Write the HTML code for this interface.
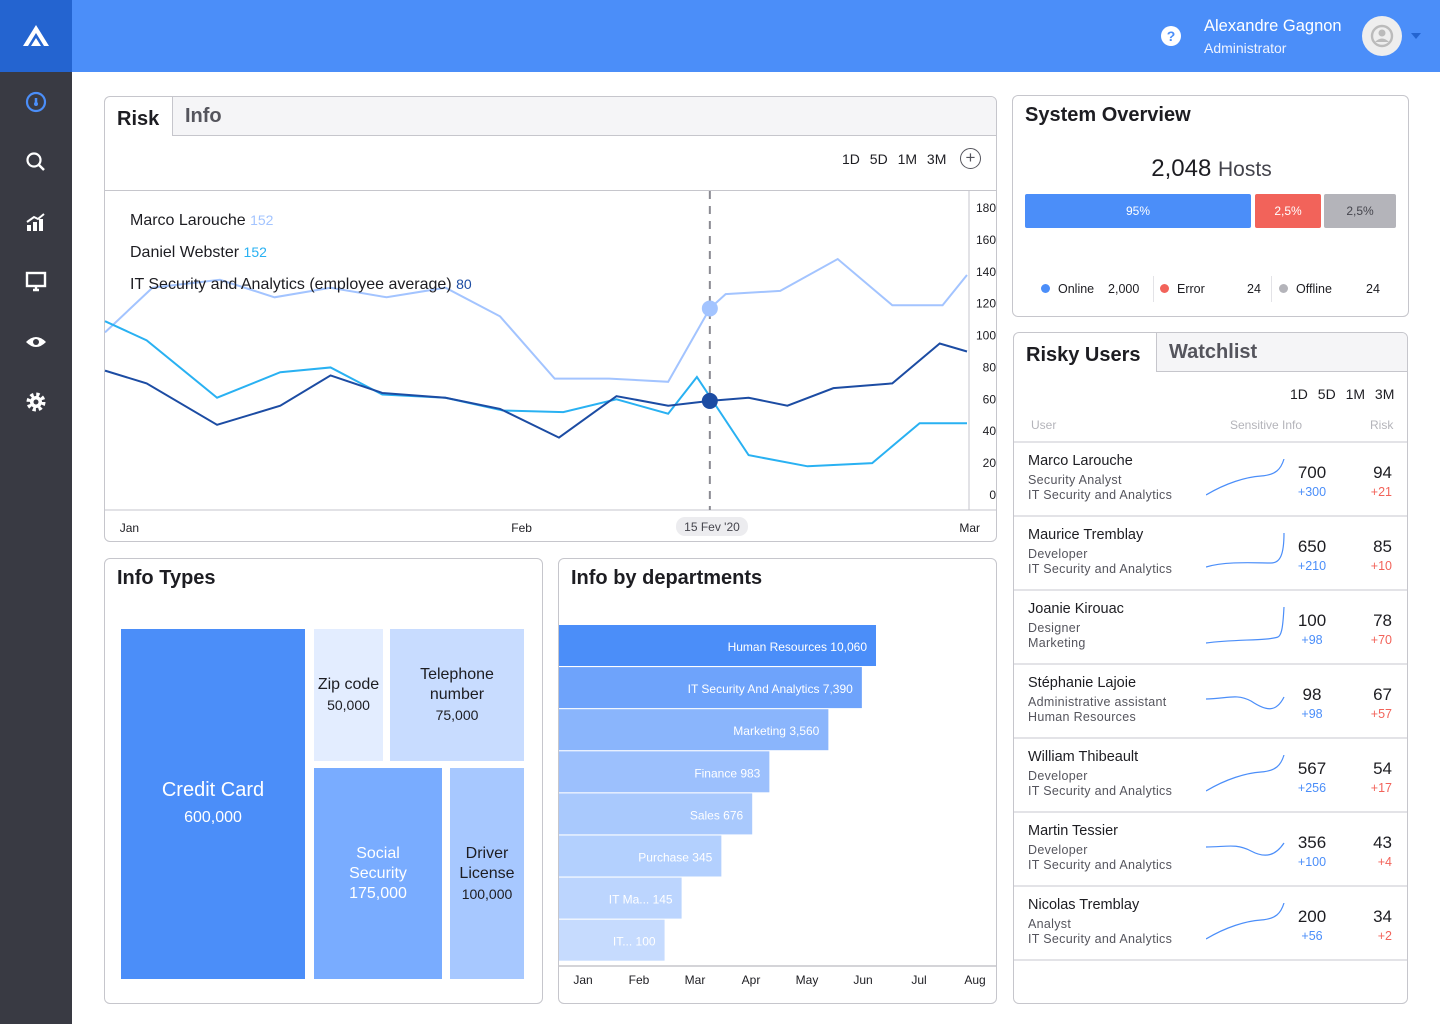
<!DOCTYPE html>
<html><head><meta charset="utf-8">
<style>
*{box-sizing:border-box;margin:0;padding:0}
body{width:1440px;height:1024px;overflow:hidden;background:#fff;font-family:"Liberation Sans",sans-serif;color:#1d1d22;position:relative}
.abs{position:absolute}
.card{position:absolute;border:1px solid #c6c6cc;border-radius:6px;background:#fff;overflow:hidden}
.title{position:absolute;font-weight:bold;font-size:20px;color:#1d1d22}
.tabgrey{position:absolute;background:#f5f5f7;border-left:1px solid #c6c6cc;border-bottom:1px solid #c6c6cc;font-weight:bold;font-size:20px;color:#55555d;padding:8px 12px}
.rng{position:absolute;font-size:14px;color:#1d1d22;word-spacing:6px}
.row{position:absolute;left:0;width:395px;height:74px;border-bottom:2px solid #e3e3e7}
.nm{position:absolute;left:14px;top:10px;font-size:14.5px;color:#1d1d22}
.sb{position:absolute;left:14px;font-size:12.5px;color:#55555d;letter-spacing:.3px}
.v1{position:absolute;width:60px;text-align:center;left:268px;top:20px;font-size:17px}
.d1{position:absolute;width:60px;text-align:center;left:268px;top:42px;font-size:12.5px;color:#4b8ef9}
.v2{position:absolute;width:40px;text-align:right;left:338px;top:20px;font-size:17px}
.d2{position:absolute;width:40px;text-align:right;left:338px;top:42px;font-size:12.5px;color:#f2635a}
.tm{position:absolute;display:flex;flex-direction:column;align-items:center;justify-content:center;text-align:center;font-size:16px;line-height:20px}
.ico{position:absolute;left:24px;width:24px;height:24px}
</style></head><body>
<div class="abs" style="left:0;top:0;width:1440px;height:72px;background:#4b8ef9"></div>
<div class="abs" style="left:0;top:0;width:72px;height:72px;background:#2464d0">
<svg width="72" height="72"><path d="M23 46 L36 25 L49 46 L44 46 L36 33 L28 46Z" fill="#fff"/><path d="M31 46 L36 38 L41 46Z" fill="#fff"/></svg></div>
<div class="abs" style="left:0;top:72px;width:72px;height:952px;background:#393a43">
<svg class="ico" style="top:18px" viewBox="0 0 24 24"><circle cx="12" cy="12" r="9" fill="none" stroke="#4b8ef9" stroke-width="2.2"/><path d="M12 14 L12 8" stroke="#4b8ef9" stroke-width="2.5"/><circle cx="12" cy="14" r="2" fill="#4b8ef9"/></svg>
<svg class="ico" style="top:78px" viewBox="0 0 24 24"><circle cx="10" cy="10" r="6.5" fill="none" stroke="#fff" stroke-width="2.2"/><path d="M15 15 L20 20" stroke="#fff" stroke-width="2.5"/></svg>
<svg class="ico" style="top:138px" viewBox="0 0 24 24"><path d="M3 21 V15 H7 V21Z M9 21 V12 H13 V21Z M15 21 V9 H19 V21Z" fill="#fff"/><path d="M3 12 L10 7 L14 9 L20 4" stroke="#fff" stroke-width="2" fill="none"/></svg>
<svg class="ico" style="top:198px" viewBox="0 0 24 24"><rect x="3" y="3" width="18" height="13" fill="none" stroke="#fff" stroke-width="2.4"/><path d="M9 20 H15 M12 16 V20" stroke="#fff" stroke-width="2.4"/></svg>
<svg class="ico" style="top:258px" viewBox="0 0 24 24"><path d="M2 12 Q12 2 22 12 Q12 22 2 12Z" fill="#fff"/><circle cx="12" cy="12" r="3" fill="#393a43"/></svg>
<svg class="ico" style="top:318px" viewBox="0 0 24 24"><circle cx="12" cy="12" r="7" fill="none" stroke="#fff" stroke-width="5" stroke-dasharray="3 2.5"/><circle cx="12" cy="12" r="6" fill="#fff"/><circle cx="12" cy="12" r="2.5" fill="#393a43"/></svg>
</div>
<div class="abs" style="left:1161px;top:26px;width:20px;height:20px;border-radius:50%;background:#fff;color:#4b8ef9;font-weight:bold;font-size:14px;text-align:center;line-height:20px">?</div>
<div class="abs" style="left:1204px;top:17px;color:#fff;font-size:16.5px">Alexandre Gagnon</div>
<div class="abs" style="left:1204px;top:40px;color:#eef3ff;font-size:14px">Administrator</div>
<div class="abs" style="left:1362px;top:16px;width:40px;height:40px;border-radius:50%;background:#eee"><svg width="40" height="40"><circle cx="20" cy="20" r="10" fill="none" stroke="#bbb" stroke-width="2.4"/><circle cx="20" cy="17" r="3.5" fill="#bbb"/><path d="M13 26 Q20 19 27 26" fill="#bbb"/></svg></div>
<div class="abs" style="left:1411px;top:33px;border-left:5px solid transparent;border-right:5px solid transparent;border-top:6px solid #2464d0"></div>

<!-- Risk card -->
<div class="card" style="left:104px;top:96px;width:893px;height:446px">
<div class="title" style="left:12px;top:11px">Risk</div>
<div class="tabgrey" style="left:67px;top:-1px;width:830px;height:40px;padding-top:9px">Info</div>
<div class="rng" style="left:737px;top:54px">1D 5D 1M 3M</div>
<div class="abs" style="left:855px;top:51px;width:21px;height:21px;border:1.5px solid #55555d;border-radius:50%;text-align:center;line-height:17px;font-size:17px;color:#55555d">+</div>
<div class="abs" style="left:0;top:93px;width:893px;border-top:1px solid #c6c6cc"></div>
</div>
<svg class="abs" id="lc" style="left:0;top:0" width="1000" height="545"></svg>

<!-- Info Types -->
<div class="card" style="left:104px;top:558px;width:439px;height:446px">
<div class="title" style="left:12px;top:8px">Info Types</div>
</div>
<div class="tm" style="left:121px;top:629px;width:184px;height:350px;background:#4b8ef9;color:#fff;font-size:20px;line-height:28px">Credit Card<span style="font-size:16px">600,000</span></div>
<div class="tm" style="left:314px;top:629px;width:69px;height:132px;background:#e3edff;color:#1d1d22">Zip code<span style="font-size:14px">50,000</span></div>
<div class="tm" style="left:390px;top:629px;width:134px;height:132px;background:#c8dcff;color:#1d1d22">Telephone<br>number<span style="font-size:14px">75,000</span></div>
<div class="tm" style="left:314px;top:768px;width:128px;height:211px;background:#79acff;color:#fff">Social<br>Security<span>175,000</span></div>
<div class="tm" style="left:450px;top:768px;width:74px;height:211px;background:#a7c8ff;color:#1d1d22">Driver<br>License<span style="font-size:14px">100,000</span></div>

<!-- Departments -->
<div class="card" style="left:558px;top:558px;width:439px;height:446px">
<div class="title" style="left:12px;top:8px">Info by departments</div>
</div>
<svg class="abs" id="bc" style="left:0;top:0" width="1000" height="1000"></svg>

<!-- System overview -->
<div class="card" style="left:1012px;top:95px;width:397px;height:222px">
<div class="title" style="left:12px;top:8px">System Overview</div>
<div class="abs" style="left:0;width:397px;top:59px;text-align:center;font-size:24px">2,048 <span style="font-size:21px;color:#45454d">Hosts</span></div>
<div class="abs" style="left:12px;top:98px;width:226px;height:34px;background:#4b8ef9;color:#fff;font-size:12px;text-align:center;line-height:34px;border-radius:2px">95%</div>
<div class="abs" style="left:242px;top:98px;width:66px;height:34px;background:#f2635a;color:#fff;font-size:12px;text-align:center;line-height:34px;border-radius:2px">2,5%</div>
<div class="abs" style="left:311px;top:98px;width:72px;height:34px;background:#b4b4ba;color:#45454d;font-size:12px;text-align:center;line-height:34px;border-radius:2px">2,5%</div>
<div class="abs" style="left:28px;top:186px;font-size:12.5px;color:#1d1d22"><span style="display:inline-block;width:9px;height:9px;border-radius:50%;background:#4b8ef9;margin-right:8px"></span>Online&nbsp;&nbsp;&nbsp;&nbsp;2,000</div>
<div class="abs" style="left:140px;top:180px;height:26px;border-left:1px solid #e3e3e7"></div>
<div class="abs" style="left:147px;top:186px;font-size:12.5px"><span style="display:inline-block;width:9px;height:9px;border-radius:50%;background:#f2635a;margin-right:8px"></span>Error</div>
<div class="abs" style="left:234px;top:186px;font-size:12.5px">24</div>
<div class="abs" style="left:258px;top:180px;height:26px;border-left:1px solid #e3e3e7"></div>
<div class="abs" style="left:266px;top:186px;font-size:12.5px"><span style="display:inline-block;width:9px;height:9px;border-radius:50%;background:#b4b4ba;margin-right:8px"></span>Offline</div>
<div class="abs" style="left:353px;top:186px;font-size:12.5px">24</div>
</div>

<!-- Risky users -->
<div class="card" id="ru" style="left:1013px;top:332px;width:395px;height:672px">
<div class="title" style="left:12px;top:11px">Risky Users</div>
<div class="tabgrey" style="left:142px;top:-1px;width:260px;height:40px;padding-top:9px">Watchlist</div>
<div class="rng" style="left:276px;top:53px">1D 5D 1M 3M</div>
<div class="abs" style="left:17px;top:85px;font-size:12px;color:#b4b4ba">User</div>
<div class="abs" style="left:216px;top:85px;font-size:12px;color:#b4b4ba">Sensitive Info</div>
<div class="abs" style="left:356px;top:85px;font-size:12px;color:#b4b4ba">Risk</div>
<div class="abs" style="left:0;top:108px;width:395px;border-top:2px solid #e3e3e7"></div>
</div>

<script>
// ---------- line chart ----------
const days = [0,3.3,8,11.8,15.7,19.6,23.7,27.5,31.3,35.1,39.2,42.1,43.2,47,51,54.8,58.3,60];
const marcoVals = [102,130,135,124,130,124,130,112,73,73,71,117,126,128,148,119,119,138];
const danielDays = [0,2.9,7.8,12.2,15.7,19.3,23.7,27.7,31.9,35.6,39.2,41.2,44.8,48.9,53.4,56.7,60];
const danielVals = [109,97,61,77,80,63,61,53,52,60,51,74,25,18,20,45,45];
const avgDays = [0,2.9,7.8,12.2,15.7,19.3,23.7,27.5,31.6,35.6,39.2,42.1,44.8,47.5,50.7,54.8,58.1,60];
const avgVals = [78,70,44,56,75,64,61,54,36,62,56,59,61,56,67,70,95,90];
const yTicks = [0,20,40,60,80,100,120,140,160,180];
const xLabels = ["Jan","Feb","Mar"];
const xLabelDays = [1.7,29,60];
const markerDay = 42.1;
const markerMarco = 117, markerAvg = 59;
const legendNames = ["Marco Larouche","Daniel Webster","IT Security and Analytics (employee average)"];
const legendVals = [152,152,80];
const colors = ["#a3c4ff","#29b1f2","#1c4ca3"];

const NS="http://www.w3.org/2000/svg";
function mk(svg,tag,attrs,text){const e=document.createElementNS(NS,tag);for(const k in attrs)e.setAttribute(k,attrs[k]);if(text!==undefined)e.textContent=text;svg.appendChild(e);return e;}
const lc=document.getElementById('lc');
const xS=d=>105+d*(862/60);
const yS=v=>495-v*(287/180);
mk(lc,'line',{x1:969,y1:191,x2:969,y2:510,stroke:'#c6c6cc'});
mk(lc,'line',{x1:105,y1:510,x2:996,y2:510,stroke:'#c6c6cc'});
yTicks.forEach(t=>{const e=mk(lc,'text',{x:996,y:yS(t)+4,'text-anchor':'end','font-size':12,fill:'#1d1d22'},t);

});
mk(lc,'rect',{x:676,y:517,width:72,height:19,rx:9,fill:'#ececef'});
xLabels.forEach((l,i)=>{const e=mk(lc,'text',{x:xS(xLabelDays[i])+ (i==0?0:0),y:532,'text-anchor':i==2?'end':'middle','font-size':12,fill:'#1d1d22'},l);
if(i==2)e.setAttribute('x',980);

});
const ml=mk(lc,'text',{x:712,y:531,'text-anchor':'middle','font-size':12,fill:'#45454d'},"15 Fev '20");


mk(lc,'line',{x1:xS(markerDay),y1:191,x2:xS(markerDay),y2:510,stroke:'#8a8a92','stroke-width':2,'stroke-dasharray':'8 7'});
function line(ds,vs,c,name){const p=mk(lc,'polyline',{points:ds.map((d,i)=>xS(d)+','+yS(vs[i])).join(' '),fill:'none',stroke:c,'stroke-width':2});

}
const clip=mk(lc,'clipPath',{id:'cp'});mk(clip,'rect',{x:105,y:190,width:864,height:320});
line(days,marcoVals,colors[0],'marco-line');
line(danielDays,danielVals,colors[1],'daniel-line');
line(avgDays,avgVals,colors[2],'average-line');
const m1=mk(lc,'circle',{cx:xS(markerDay),cy:yS(markerMarco),r:8,fill:colors[0]});


const m2=mk(lc,'circle',{cx:xS(markerDay),cy:yS(markerAvg),r:8,fill:colors[2]});


legendNames.forEach((n,i)=>{const t=mk(lc,'text',{x:130,y:225+i*32,'font-size':16,fill:'#1d1d22'});


const a=document.createElementNS(NS,'tspan');a.textContent=n+'  ';t.appendChild(a);
const b=document.createElementNS(NS,'tspan');b.textContent=' '+legendVals[i];b.setAttribute('fill',colors[i]);b.setAttribute('font-size',14);t.appendChild(b);});

// ---------- bar chart ----------
const depts = ["Human Resources","IT Security And Analytics","Marketing","Finance","Sales","Purchase","IT Ma...","IT..."];
const deptVals = [10060,7390,3560,983,676,345,145,100];
const months = ["Jan","Feb","Mar","Apr","May","Jun","Jul","Aug"];
const barColors = ["#4b8ef9","#6ea3fb","#8ab5fc","#9cc0fd","#a9c9fd","#b3d0fe","#bcd5fe","#c6dbfe"];
const bc=document.getElementById('bc');
const bx=v=>Math.max(0,(Math.log10(v)-1)/(Math.log10(10060)-1))*317;
depts.forEach((d,i)=>{const y=625+i*42.1;
const r=mk(bc,'rect',{x:559,y:y,width:bx(deptVals[i]),height:41,fill:barColors[i]});


const t=mk(bc,'text',{x:559+bx(deptVals[i])-9,y:y+26,'text-anchor':'end','font-size':12,fill:'#fff'},d+' '+deptVals[i].toLocaleString('en-US'));

});
mk(bc,'line',{x1:559,y1:966,x2:996,y2:966,stroke:'#c6c6cc','stroke-width':1.5});
months.forEach((m,i)=>{const t=mk(bc,'text',{x:583+i*56,y:984,'text-anchor':'middle','font-size':12,fill:'#1d1d22'},m);

});

// ---------- risky users ----------
const users=[
["Marco Larouche","Security Analyst","IT Security and Analytics",700,"+300",94,"+21","M0 36 C20 24 40 18 55 17 C70 16 75 10 78 0"],
["Maurice Tremblay","Developer","IT Security and Analytics",650,"+210",85,"+10","M0 34 C20 28 50 30 65 30 C74 30 78 22 78 0"],
["Joanie Kirouac","Designer","Marketing",100,"+98",78,"+70","M0 36 C30 32 60 34 72 30 C76 28 77 18 78 0"],
["Stéphanie Lajoie","Administrative assistant","Human Resources",98,"+98",67,"+57","M0 18 C20 18 30 12 45 20 C60 30 70 32 78 16"],
["William Thibeault","Developer","IT Security and Analytics",567,"+256",54,"+17","M0 36 C20 24 40 18 55 17 C70 16 75 10 78 0"],
["Martin Tessier","Developer","IT Security and Analytics",356,"+100",43,"+4","M0 18 C20 18 30 14 45 22 C60 30 70 26 78 14"],
["Nicolas Tremblay","Analyst","IT Security and Analytics",200,"+56",34,"+2","M0 36 C20 24 40 18 55 17 C70 16 75 10 78 0"]];
const ru=document.getElementById('ru');
users.forEach((u,i)=>{const r=document.createElement('div');r.className='row';r.style.top=(110+i*74)+'px';


r.innerHTML=`<div class="nm">${u[0]}</div><div class="sb" style="top:30px">${u[1]}</div><div class="sb" style="top:45px">${u[2]}</div>
<svg style="position:absolute;left:192px;top:16px" width="80" height="40"><path d="${u[7]}" fill="none" stroke="#4b8ef9" stroke-width="1.2"/></svg>
<div class="v1">${u[3]}</div><div class="d1">${u[4]}</div><div class="v2">${u[5]}</div><div class="d2">${u[6]}</div>`;
ru.appendChild(r);});
</script>
</body></html>
